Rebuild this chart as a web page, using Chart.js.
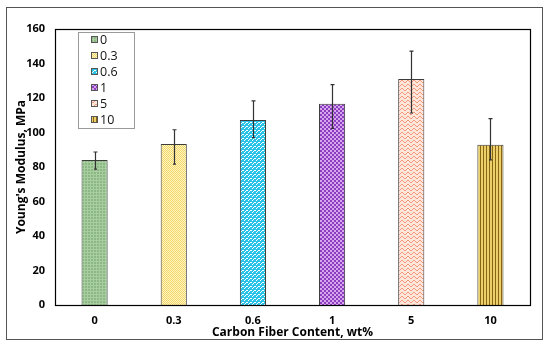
<!DOCTYPE html>
<html>
<head>
<meta charset="utf-8">
<script src="https://cdn.jsdelivr.net/npm/chart.js@4.4.0/dist/chart.umd.min.js"></script>
<style>
  html, body { margin: 0; padding: 0; background: #fff; }
  #wrap { position: relative; width: 550px; height: 347px; }
  #frame { position: absolute; left: 6px; top: 7px; width: 537px; height: 333px; border: 1.5px solid #555; box-sizing: border-box; pointer-events: none; }
</style>
</head>
<body>
<div id="wrap">
  <canvas id="grafico" width="550" height="347"></canvas>
  <div id="frame"></div>
</div>
<script>
// data
var categorias = ['0', '0.3', '0.6', '1', '5', '10'];
var modulo = [84.0, 93.3, 107.2, 116.7, 131.0, 92.9];
var erroAlto = [88.7, 101.6, 118.3, 127.7, 147.2, 108.0];
var erroBaixo = [78.8, 81.7, 97.0, 102.4, 111.3, 84.1];
var ticksY = [0, 20, 40, 60, 80, 100, 120, 140, 160];

// small tiles for the hatched fills
function tile(w, h, draw) {
    var c = document.createElement('canvas');
    c.width = w; c.height = h;
    var g = c.getContext('2d');
    draw(g);
    return document.getElementById('grafico').getContext('2d').createPattern(c, 'repeat');
}

var padroes = [
    tile(3, 3, function (g) { // green fine grid
        g.fillStyle = '#8cb884'; g.fillRect(0, 0, 3, 3);
        g.fillStyle = '#a8cda0'; g.fillRect(0, 0, 3, 1); g.fillRect(0, 0, 1, 3);
    }),
    tile(2, 2, function (g) { // yellow checker
        g.fillStyle = '#fff4bd'; g.fillRect(0, 0, 2, 2);
        g.fillStyle = '#f4d86e'; g.fillRect(0, 0, 1, 1); g.fillRect(1, 1, 1, 1);
    }),
    tile(4, 4, function (g) { // cyan with white dots
        g.fillStyle = '#2cc3e8'; g.fillRect(0, 0, 4, 4);
        g.fillStyle = '#ffffff'; g.fillRect(0, 0, 1, 1); g.fillRect(2, 2, 2, 1); g.fillRect(1, 3, 1, 1);
    }),
    tile(4, 4, function (g) { // purple checker
        g.fillStyle = '#8a3dbf'; g.fillRect(0, 0, 4, 4);
        g.fillStyle = '#d7a6ee'; g.fillRect(0, 0, 2, 2); g.fillRect(2, 2, 2, 2);
    }),
    tile(6, 4, function (g) { // salmon zigzag
        g.fillStyle = '#fde6da'; g.fillRect(0, 0, 6, 4);
        g.fillStyle = '#f29a80';
        g.fillRect(0, 0, 1, 1); g.fillRect(1, 1, 1, 1); g.fillRect(2, 2, 1, 1);
        g.fillRect(3, 2, 1, 1); g.fillRect(4, 1, 1, 1); g.fillRect(5, 0, 1, 1);
    }),
    tile(3, 1, function (g) { // brown vertical stripes
        g.fillStyle = '#ecd06c'; g.fillRect(0, 0, 3, 1);
        g.fillStyle = '#8a6612'; g.fillRect(0, 0, 1, 1);
    })
];

var fonte = 'Open Sans';

// error bars
var barrasErro = {
    id: 'barrasErro',
    afterDatasetsDraw: function (chart) {
        var c = chart.ctx, y = chart.scales.y;
        var meta = chart.getDatasetMeta(0);
        c.save();
        c.strokeStyle = '#333'; c.lineWidth = 1.2;
        meta.data.forEach(function (bar, i) {
            var x = Math.round(bar.x) + 0.5;
            var yt = y.getPixelForValue(erroAlto[i]);
            var yb = y.getPixelForValue(erroBaixo[i]);
            c.beginPath();
            c.moveTo(x, yt); c.lineTo(x, yb);
            c.moveTo(x - 2, yt); c.lineTo(x + 2, yt);
            c.moveTo(x - 1.5, yb); c.lineTo(x + 1.5, yb);
            c.stroke();
        });
        c.restore();
    }
};

// box around the plot and the legend inside it
var moldura = {
    id: 'moldura',
    afterDraw: function (chart) {
        var c = chart.ctx, a = chart.chartArea;
        c.save();
        c.strokeStyle = '#000'; c.lineWidth = 1.2;
        c.strokeRect(a.left + 0.5, a.top + 0.5, a.right - a.left, a.bottom - a.top);

        var lx = 78.5, ly = 32.5, lw = 56, lh = 96;
        c.strokeStyle = '#9a9a9a'; c.lineWidth = 1;
        c.fillStyle = '#fff';
        c.fillRect(lx, ly, lw, lh);
        c.strokeRect(lx, ly, lw, lh);
        c.font = '12.5px "' + fonte + '"';
        c.textBaseline = 'middle';
        categorias.forEach(function (cat, i) {
            var yy = 40 + i * 16;
            c.fillStyle = padroes[i];
            c.fillRect(91, yy - 4, 7, 7);
            c.strokeStyle = '#555';
            c.strokeRect(91.5, yy - 3.5, 6, 6);
            c.fillStyle = '#111';
            c.fillText(cat, 100, yy + 0.5);
        });
        c.restore();
    }
};

new Chart(document.getElementById('grafico').getContext('2d'), {
    type: 'bar',
    data: {
        labels: categorias,
        datasets: [{
            label: "Young's Modulus",
            data: modulo,
            backgroundColor: padroes,
            borderColor: '#3c3c3c',
            borderWidth: 1,
            barPercentage: 0.33,
            categoryPercentage: 1
        }]
    },
    options: {
        responsive: false,
        animation: false,
        layout: { padding: { left: 0, right: 20, top: 29, bottom: 0 } },
        plugins: {
            legend: { display: false },
            tooltip: { enabled: false }
        },
        scales: {
            x: {
                grid: { display: false, drawTicks: false },
                border: { display: false },
                ticks: { color: '#000', padding: 9, font: { family: fonte, size: 11, weight: 'bold' } },
                title: {
                    display: true,
                    text: 'Carbon Fiber Content, wt%',
                    color: '#000',
                    padding: { top: 0, bottom: 7 },
                    font: { family: fonte, size: 12, weight: 'bold' }
                },
                afterFit: function (s) { s.height = 42; }
            },
            y: {
                min: 0,
                max: 160,
                afterBuildTicks: function (s) { s.ticks = ticksY.map(function (v) { return { value: v }; }); },
                grid: { display: false, drawTicks: false },
                border: { display: false },
                ticks: { color: '#000', padding: 10, font: { family: fonte, size: 11, weight: 'bold' } },
                title: {
                    display: true,
                    text: "Young's Modulus, MPa",
                    color: '#000',
                    padding: { top: 14, bottom: 0 },
                    font: { family: fonte, size: 12, weight: 'bold' }
                },
                afterFit: function (s) { s.width = 55; }
            }
        }
    },
    plugins: [barrasErro, moldura]
});
</script>
</body>
</html>
